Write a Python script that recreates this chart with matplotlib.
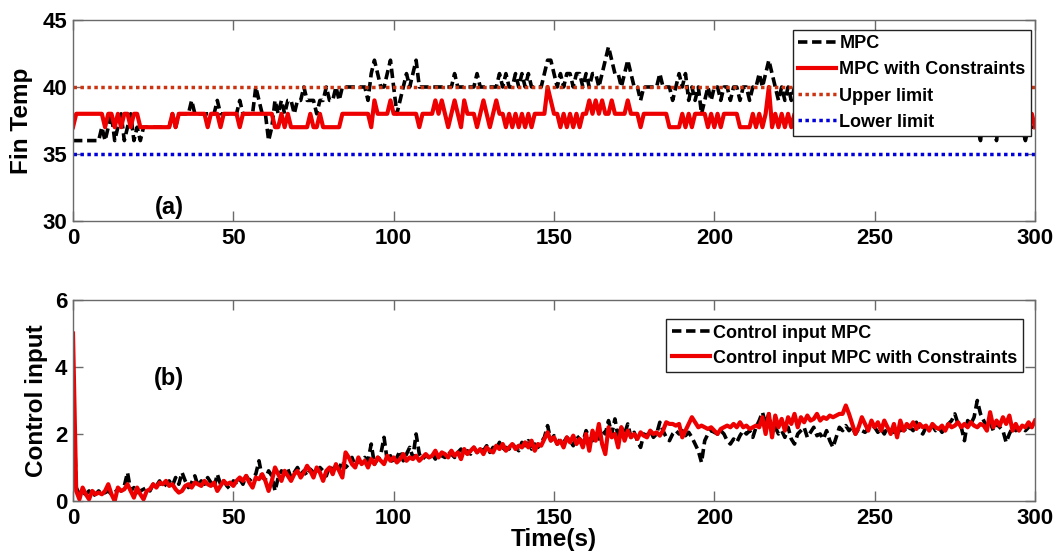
import numpy as np
import matplotlib
matplotlib.use("Agg")
import matplotlib.pyplot as plt

plt.rcParams['font.family'] = ['Liberation Sans', 'DejaVu Sans']
plt.rcParams['font.weight'] = 'bold'

# time axis (s), one sample per second
time_s = np.arange(0, 301)

# ---- (a) Fin temperature ----
temp_mpc = [
    36, 36, 36, 36, 36, 36, 36, 36, 36, 37,
    36, 37, 38, 36, 37, 38, 36, 37, 38, 36,
    37, 36, 37, 37, 37, 37, 37, 37, 37, 37,
    37, 38, 37, 38, 38, 38, 38, 39, 38, 38,
    38, 38, 38, 38, 38, 39, 38, 38, 38, 38,
    38, 38, 39, 38, 38, 38, 38, 40, 39, 38,
    38, 36, 37, 39, 38, 39, 38, 39, 39, 38,
    39, 39, 40, 39, 39, 39, 38, 39, 39, 40,
    39, 39, 40, 39, 40, 40, 40, 40, 40, 40,
    40, 40, 39, 41, 42, 41, 40, 40, 41, 42,
    40, 38, 39, 40, 41, 40, 41, 42, 40, 40,
    40, 40, 40, 40, 40, 40, 40, 40, 40, 41,
    40, 40, 40, 40, 40, 40, 41, 40, 40, 40,
    40, 40, 40, 41, 40, 41, 40, 40, 41, 40,
    41, 40, 41, 40, 40, 40, 40, 41, 42, 42,
    41, 40, 41, 40, 41, 41, 40, 41, 41, 40,
    41, 40, 41, 41, 40, 41, 42, 43, 42, 41,
    41, 40, 41, 42, 41, 40, 40, 39, 40, 40,
    40, 40, 40, 41, 40, 40, 40, 39, 40, 41,
    40, 41, 39, 40, 39, 40, 38, 39, 40, 39,
    40, 40, 39, 40, 40, 39, 40, 40, 39, 40,
    40, 39, 40, 40, 41, 40, 41, 42, 41, 40,
    39, 40, 39, 40, 39, 40, 40, 39, 40, 40,
    39, 40, 40, 39, 40, 40, 40, 39, 40, 39,
    40, 40, 39, 40, 40, 39, 40, 40, 40, 39,
    40, 39, 40, 40, 39, 40, 40, 39, 40, 40,
    40, 39, 40, 40, 40, 39, 40, 39, 40, 40,
    39, 40, 40, 39, 40, 40, 39, 40, 39, 39,
    39, 38, 37, 36, 38, 39, 38, 37, 36, 38,
    39, 39, 38, 39, 38, 38, 37, 36, 37, 37,
    37,
]

temp_mpc_con = [
    37, 38, 38, 38, 38, 38, 38, 38, 38, 38,
    37, 38, 38, 37, 38, 37, 38, 38, 37, 38,
    38, 37, 37, 37, 37, 37, 37, 37, 37, 37,
    37, 38, 37, 38, 38, 38, 38, 38, 38, 38,
    38, 38, 37, 38, 38, 38, 37, 38, 38, 38,
    38, 38, 37, 38, 38, 38, 38, 38, 38, 38,
    38, 38, 38, 37, 37, 38, 37, 38, 37, 37,
    37, 37, 37, 37, 38, 37, 37, 38, 37, 37,
    37, 37, 37, 37, 38, 38, 38, 38, 38, 38,
    38, 38, 38, 37, 39, 38, 38, 38, 38, 39,
    38, 38, 38, 38, 38, 38, 38, 38, 37, 38,
    38, 38, 38, 39, 38, 39, 38, 37, 38, 39,
    38, 37, 39, 38, 38, 38, 37, 38, 39, 38,
    37, 38, 39, 38, 38, 37, 38, 37, 38, 37,
    38, 37, 38, 37, 38, 38, 38, 38, 40, 39,
    38, 38, 37, 38, 37, 38, 37, 38, 37, 38,
    38, 39, 38, 39, 38, 39, 38, 38, 39, 38,
    38, 38, 38, 39, 38, 38, 38, 37, 38, 38,
    38, 38, 38, 38, 38, 38, 37, 37, 37, 37,
    38, 37, 38, 37, 38, 38, 38, 38, 37, 38,
    37, 38, 37, 38, 38, 38, 38, 38, 37, 37,
    37, 37, 38, 37, 38, 37, 38, 40, 37, 38,
    37, 38, 37, 38, 37, 38, 38, 37, 38, 38,
    38, 37, 38, 38, 38, 38, 37, 38, 37, 38,
    38, 38, 38, 37, 38, 38, 38, 38, 37, 37,
    38, 37, 38, 38, 38, 38, 38, 37, 38, 38,
    37, 38, 38, 38, 38, 37, 38, 37, 38, 38,
    38, 38, 38, 38, 37, 38, 38, 38, 38, 37,
    38, 37, 38, 38, 38, 38, 37, 38, 38, 37,
    38, 38, 38, 37, 38, 37, 38, 38, 37, 38,
    37,
]

upper_limit = 40
lower_limit = 35

# ---- (b) Control input ----
u_mpc = [
    3.4, 0.4, 0.2, 0.25, 0.2, 0.3, 0.15, 0.2, 0.3, 0.2,
    0.25, 0.3, 0.2, 0.25, 0.35, 0.3, 0.45, 0.85, 0.3, 0.4,
    0.25, 0.3, 0.35, 0.4, 0.3, 0.5, 0.45, 0.6, 0.4, 0.5,
    0.6, 0.45, 0.7, 0.5, 0.85, 0.6, 0.4, 0.55, 0.75, 0.45,
    0.6, 0.5, 0.7, 0.55, 0.4, 0.8, 0.5, 0.6, 0.45, 0.35,
    0.6, 0.55, 0.65, 0.5, 0.75, 0.6, 0.7, 0.8, 1.2, 0.7,
    0.65, 0.9, 0.75, 0.3, 0.7, 0.9, 0.8, 0.95, 0.7, 0.85,
    1.0, 0.8, 0.9, 0.75, 0.95, 0.85, 0.8, 1.0, 0.9, 0.75,
    1.05, 0.9, 1.1, 0.95, 1.2, 1.0, 1.1, 1.3, 1.05, 1.2,
    1.15, 1.3, 1.2, 1.7, 1.1, 1.25, 1.4, 1.9, 1.2, 1.35,
    1.1, 1.3, 1.5, 1.2, 1.4, 1.6, 1.3, 2.0, 1.4, 1.25,
    1.35, 1.3, 1.4, 1.25, 1.45, 1.35, 1.3, 1.5, 1.4, 1.3,
    1.45, 1.55, 1.35, 1.5, 1.4, 1.6, 1.45, 1.55, 1.5, 1.65,
    1.45, 1.6, 1.55, 1.75, 1.5, 1.6, 1.55, 1.7, 1.6, 1.5,
    1.75, 1.65, 1.8, 1.55, 1.7, 1.6, 1.75, 1.9, 2.25, 1.8,
    1.95, 1.7, 1.85, 1.75, 1.9, 1.8, 1.65, 1.95, 1.85, 1.75,
    2.1, 1.9, 1.8, 2.0, 1.85, 2.1, 2.0, 2.4, 2.0, 2.45,
    1.9, 2.2, 2.0, 2.3, 1.9, 2.05, 1.8, 1.6, 2.0, 1.95,
    2.1, 1.9, 2.0, 2.35, 2.1, 1.9, 1.8, 2.0, 2.1, 2.0,
    2.1, 1.95, 2.05, 1.9, 1.7, 1.5, 1.15, 1.8, 2.0, 2.1,
    2.05, 2.0, 2.1, 2.0, 1.8, 1.7, 1.85, 1.75, 1.95, 2.1,
    2.0, 2.1, 1.9, 2.2, 2.4, 2.65, 2.3, 2.6, 2.1, 2.2,
    2.0, 2.1, 1.9, 2.2, 1.85, 1.7, 2.0, 2.1, 2.2, 1.9,
    2.05, 2.2, 1.95, 2.0, 1.85, 2.1, 1.8, 1.6, 1.9, 2.2,
    2.1, 2.25, 2.1, 2.2, 2.0, 2.15, 2.1, 2.05, 2.15, 2.1,
    2.2, 2.05, 2.15, 2.0, 2.2, 2.1, 2.05, 2.2, 2.1, 2.15,
    2.05, 2.2, 2.1, 2.35, 2.1, 2.0, 2.2, 2.15, 2.25, 2.1,
    2.2, 2.05, 2.2, 2.3, 2.4, 2.6, 2.3, 2.2, 1.8, 2.4,
    2.3, 2.5, 3.0, 2.6, 2.4, 2.2, 2.35, 2.1, 2.3, 2.2,
    2.1, 1.75, 2.0, 2.2, 2.1, 2.15, 2.2, 2.1, 2.2, 2.25,
    2.2,
]

u_mpc_con = [
    5.0, 0.3, 0.05, 0.4, 0.2, 0.05, 0.3, 0.2, 0.25, 0.2,
    0.3, 0.5, 0.2, 0.0, 0.4, 0.3, 0.35, 0.5, 0.3, 0.1,
    0.4, 0.2, 0.05, 0.3, 0.35, 0.5, 0.4, 0.55, 0.5, 0.6,
    0.45, 0.5, 0.35, 0.25, 0.3, 0.45, 0.5, 0.4, 0.55, 0.5,
    0.45, 0.6, 0.5, 0.45, 0.55, 0.3, 0.45, 0.6, 0.5, 0.55,
    0.45, 0.6, 0.7, 0.6, 0.75, 0.55, 0.4, 0.7, 0.65, 0.8,
    0.6, 0.3, 0.6, 1.0, 0.8, 0.6, 0.9, 0.75, 0.6, 0.8,
    0.9, 0.7, 0.85, 1.05, 0.9, 0.7, 1.0, 0.85, 0.6, 0.9,
    1.0, 0.8, 1.1, 0.9, 0.7, 1.45, 1.3, 1.1, 1.0, 1.3,
    1.1, 1.2, 1.0, 1.25, 1.1, 1.3, 1.2, 1.1, 1.35, 1.2,
    1.3, 1.15, 1.25, 1.4, 1.2, 1.3, 1.25, 1.35, 1.2, 1.3,
    1.4, 1.3, 1.35, 1.5, 1.3, 1.45, 1.4, 1.3, 1.5, 1.35,
    1.45, 1.25, 1.55, 1.4, 1.5, 1.6, 1.45, 1.55, 1.4, 1.6,
    1.5, 1.45, 1.65, 1.55, 1.7, 1.5, 1.6, 1.7, 1.55, 1.65,
    1.6, 1.75, 1.6, 1.8, 1.5, 1.7, 1.65, 1.85, 2.05, 1.8,
    1.9, 1.7, 1.8, 1.6, 1.9, 1.75, 1.95, 1.7, 1.85, 1.6,
    2.0, 1.5, 2.1, 1.8, 2.3, 1.7, 1.4, 2.2, 1.9, 2.0,
    1.6, 2.2, 1.8, 2.1, 1.9, 2.0, 1.85, 2.05, 1.95, 1.9,
    2.1, 2.0, 2.05, 1.95, 2.1, 2.35, 2.3, 2.3, 2.25, 2.3,
    1.9, 2.1, 2.3, 2.5, 2.35, 2.2, 2.25, 2.2, 2.15, 2.2,
    2.1, 2.0, 2.15, 2.2, 2.25, 2.2, 2.3, 2.2, 2.35, 2.2,
    2.25, 2.15, 2.2, 2.25, 2.2, 2.5, 2.0, 2.6, 1.9, 2.55,
    2.2, 2.45, 2.1, 2.5, 2.3, 2.6, 2.2, 2.5, 2.35, 2.55,
    2.4, 2.45, 2.6, 2.4, 2.5, 2.45, 2.55, 2.5, 2.55, 2.6,
    2.6, 2.85, 2.6, 2.3, 2.0, 2.2, 2.5, 2.3, 2.1, 2.4,
    2.2, 2.35, 2.1, 2.4, 2.2, 2.0, 2.3, 1.9, 2.4, 2.1,
    2.3, 2.2, 2.35, 2.15, 2.3, 2.2, 2.25, 2.1, 2.3, 2.2,
    2.15, 2.25, 2.1, 2.3, 2.2, 2.25, 2.35, 2.2, 2.3, 2.2,
    2.35, 2.25, 2.2, 2.3, 2.25, 2.1, 2.65, 2.2, 2.4, 2.25,
    2.5, 2.3, 2.55, 2.1, 2.3, 2.1, 2.25, 2.2, 2.35, 2.2,
    2.4,
]

x_ticks = [0, 50, 100, 150, 200, 250, 300]
temp_ticks = [30, 35, 40, 45]
u_ticks = [0, 2, 4, 6]

BLACK_DASH = (0, (2.6, 1.3))
DOT = (0, (1, 1))
RED = '#ee0000'
SPINE = '#6a6a6a'

fig = plt.figure(figsize=(10.61, 5.54), dpi=100)
ax1 = fig.add_axes([0.0688, 0.6011, 0.9067, 0.3628])
ax2 = fig.add_axes([0.0688, 0.0957, 0.9067, 0.3628])

ax1.plot(time_s, temp_mpc, color='black', ls=BLACK_DASH, lw=2.6, label='MPC')
ax1.plot(time_s, temp_mpc_con, color=RED, lw=3.0, label='MPC with Constraints')
ax1.axhline(upper_limit, color='#cc3311', ls=DOT, lw=2.5, dash_capstyle='butt',
            label='Upper limit')
ax1.axhline(lower_limit, color='#0000dd', ls=DOT, lw=2.5, dash_capstyle='butt',
            label='Lower limit')
ax1.set_ylim(30, 45)
ax1.set_yticks(temp_ticks)
ax1.set_ylabel('Fin Temp', fontsize=17.5, fontweight='bold', labelpad=7)
ax1.text(30, 31.0, '(a)', fontsize=17, fontweight='bold', ha='center', va='center')

ax2.plot(time_s, u_mpc, color='black', ls=BLACK_DASH, lw=2.6, label='Control input MPC')
ax2.plot(time_s, u_mpc_con, color=RED, lw=3.0, label='Control input MPC with Constraints')
ax2.set_ylim(0, 6)
ax2.set_yticks(u_ticks)
ax2.set_ylabel('Control input', fontsize=17.5, fontweight='bold', labelpad=5)
ax2.set_xlabel('Time(s)', fontsize=17.5, fontweight='bold', labelpad=-1)
ax2.text(30, 3.65, '(b)', fontsize=17, fontweight='bold', ha='center', va='center')

for ax in (ax1, ax2):
    ax.set_xlim(0, 300)
    ax.set_xticks(x_ticks)
    ax.tick_params(direction='in', top=True, right=True, length=7, width=1,
                   color=SPINE, labelsize=16, pad=4)
    ax.tick_params(axis='x', pad=5)
    for lab in ax.get_xticklabels() + ax.get_yticklabels():
        lab.set_fontweight('bold')
    for sp in ax.spines.values():
        sp.set_color(SPINE)
        sp.set_linewidth(1.0)

leg1 = ax1.legend(loc='upper right', bbox_to_anchor=(0.996, 0.95), fontsize=13,
                  frameon=True, fancybox=False, framealpha=1, edgecolor='#222222',
                  borderpad=0.3, labelspacing=0.5, handlelength=2.1,
                  handletextpad=0.2, borderaxespad=0)
leg1.get_frame().set_linewidth(1.0)
leg2 = ax2.legend(loc='upper right', bbox_to_anchor=(0.9875, 0.905), fontsize=13,
                  frameon=True, fancybox=False, framealpha=1, edgecolor='#222222',
                  borderpad=0.3, labelspacing=0.45, handlelength=2.1,
                  handletextpad=0.2, borderaxespad=0)
leg2.get_frame().set_linewidth(1.0)
for leg in (leg1, leg2):
    for txt in leg.get_texts():
        txt.set_fontweight('bold')

fig.savefig('out.png', dpi=100)
